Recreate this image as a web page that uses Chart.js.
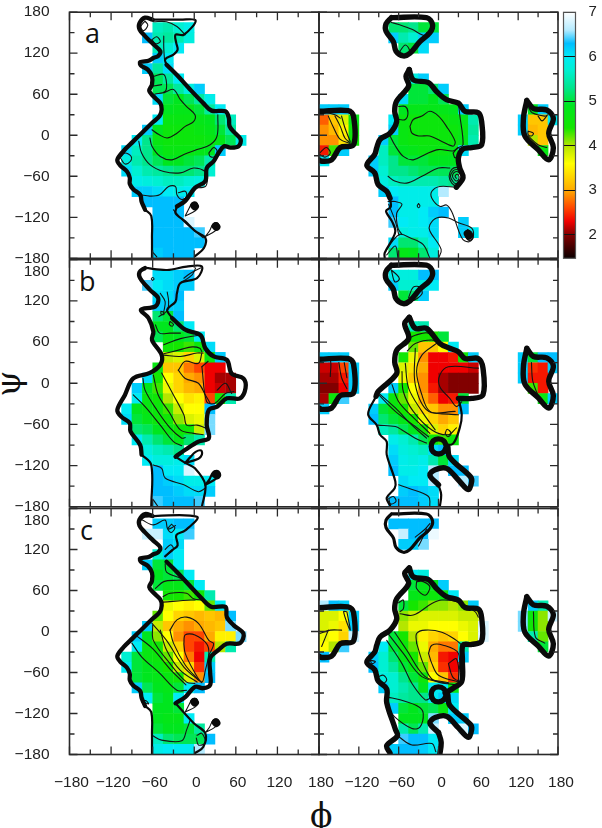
<!DOCTYPE html>
<html>
<head>
<meta charset="utf-8">
<style>
  html, body { margin: 0; padding: 0; background: #fff; }
  #page { position: relative; width: 602px; height: 828px; overflow: hidden; }
  canvas { position: absolute; left: 0; top: 0; }
  .lbl { position: absolute; color: #111; line-height: 1; }
  .panel-tag { font-family: 'Open Sans', sans-serif; font-size: 27px; }
  .axis-sym { font-family: 'DejaVu Serif', 'Liberation Serif', serif; font-size: 33px; }
</style>
<script src="https://cdn.jsdelivr.net/npm/chart.js@4"></script>
</head>
<body>
<div id="page">
  <div class="lbl panel-tag" style="left:85px;top:19px">a</div>
  <div class="lbl panel-tag" style="left:79px;top:267px">b</div>
  <div class="lbl panel-tag" style="left:80px;top:516px">c</div>
  <div class="lbl axis-sym" style="left:310px;top:799px">ϕ</div>
  <div class="lbl axis-sym" style="left:-4px;top:367px;transform:rotate(-90deg)">ψ</div>
</div>
<script>
// ── DATA ──
const phiTicks = [-180, -150, -120, -90, -60, -30, 0, 30, 60, 90, 120, 150, 180];
const psiTicks = [-180, -150, -120, -90, -60, -30, 0, 30, 60, 90, 120, 150, 180];
const psiLabelDrop = 162; // the "180" label of panels b and c sits lower than its tick
const barTicks = [2, 3, 4, 5, 6, 7];
const stopValues = [1.47, 2, 2.3, 2.6, 3, 3.6, 4.0, 4.4, 4.9, 5.3, 5.7, 6, 6.3, 6.6, 7];
const stopColors = ['#0a0000', '#820000', '#f00000', '#ff4600', '#ffaa00', '#ffff00', '#b4e600', '#14e600',
  '#00e61e', '#00e68c', '#00f0d2', '#00ebf5', '#00beff', '#b4ebff', '#ffffff'];

// heat cells: [psi low edge, phi low edge of first cell, values in 15 degree steps...]
const cellsA1 = [
  [150, -60, 5.6, 5.5, 5.7, 5.9],
  [135, -75, 6.3, 5.5, 5.4, 5.5, 5.8],
  [120, -60, 5.6, 5.7, 6.0],
  [105, -60, 6.2, 6.0],
  [90, -75, 6.2, 5.4, 6.1],
  [75, -60, 5.1, 5.4, 6.0],
  [60, -60, 5.1, 5.1, 5.4, 5.8, 6.2],
  [45, -60, 6.1, 5.0, 4.9, 5.1, 5.4, 5.9],
  [30, -45, 4.9, 4.8, 4.8, 5.0, 5.4, 6.0],
  [15, -60, 6.0, 4.7, 4.7, 4.7, 4.8, 4.9, 5.2, 5.6],
  [0, -75, 6.2, 4.9, 4.6, 4.6, 4.6, 4.7, 4.8, 5.0, 5.4],
  [-15, -90, 6.0, 5.3, 4.7, 4.6, 4.6, 4.6, 4.6, 4.7, 4.8, 5.1, 5.9],
  [-30, -105, 6.1, 5.6, 5.3, 4.9, 4.7, 4.7, 4.7, 4.8, 4.9, 6.2],
  [-45, -105, 5.8, 5.5, 5.3, 5.1, 4.9, 4.9, 5.0, 5.1, 5.5],
  [-60, -105, 6.1, 5.7, 5.5, 5.4, 5.3, 5.2, 5.2, 5.3, 5.7],
  [-75, -90, 5.9, 5.8, 5.7, 5.6, 5.6, 5.7, 5.8],
  [-90, -90, 6.2, 6.2, 6.1, 6.0, 5.9, 6.0],
  [-105, -75, 6.3, 6.3, 6.3, 6.3],
  [-120, -60, 6.3, 6.3, 6.3],
  [-135, -60, 6.3, 6.3, 6.3, 6.8],
  [-150, -60, 6.3, 6.3, 6.3, 6.3, 6.4],
  [-165, -60, 6.3, 6.3, 6.3, 6.3, 6.3],
  [-180, -60, 6.2, 6.3, 6.3, 6.3],
];
const cellsA2 = [
  [150, -75, 5.2, 5.2, 5.3, 5.0, 5.0],
  [135, -75, 6.2, 5.5, 5.7, 6.2, 6.2],
  [120, -60, 5.2, 5.0, 6.1],
  [75, -45, 5.8, 6.2],
  [60, -45, 5.0, 5.0, 5.2, 6.2],
  [45, -60, 6.1, 5.0, 5.0, 4.9, 5.1],
  [30, -60, 4.9, 4.8, 4.8, 4.8, 4.8, 4.9, 6.2],
  [15, -75, 6.0, 4.7, 4.6, 4.6, 4.6, 4.6, 4.7, 4.8, 5.5],
  [0, -75, 6.2, 4.7, 4.6, 4.6, 4.6, 4.6, 4.6, 4.7, 5.4],
  [-15, -90, 6.2, 5.0, 4.7, 4.6, 4.6, 4.6, 4.6, 4.6, 4.8, 5.5],
  [-30, -90, 5.6, 5.0, 4.9, 4.8, 4.7, 4.7, 4.7, 4.8, 6.1],
  [-45, -105, 6.2, 5.6, 5.3, 5.0, 5.0, 5.0, 4.9, 4.9, 4.9],
  [-60, -105, 6.2, 5.7, 5.3, 5.3, 5.2, 5.1, 5.1, 5.1, 5.1],
  [-75, -90, 5.8, 5.6, 5.5, 5.5, 5.5, 5.5, 5.4, 5.3],
  [-90, -90, 6.2, 6.0, 5.9, 5.9, 5.9, 5.9, 6.6],
  [-105, -75, 6.3, 5.9, 5.9, 5.9, 5.9],
  [-120, -75, 6.3, 5.9, 5.9, 6.0, 6.2, 6.3],
  [-135, -75, 6.4, 6.0, 5.9, 6.0, 6.1],
  [-135, 30, 6.2],
  [-150, -60, 5.8, 5.9, 5.9, 6.1],
  [-150, 30, 6.2, 6.0],
  [-165, -75, 6.1, 5.2, 5.2, 5.6, 6.0],
  [-180, -75, 5.2, 4.8, 4.9, 5.2, 5.8],
  // left edge island
  [30, -180, 6.2, 6.2, 6.2],
  [15, -180, 2.7, 3.2, 3.8, 4.8],
  [0, -180, 2.9, 3.1, 3.5, 4.6],
  [-15, -180, 2.9, 2.9, 3.4, 4.5],
  [-30, -180, 2.4, 4.3, 6.2],
  [-45, -180, 6.0],
  // right island
  [30, 135, 4.9, 6.2],
  [15, 120, 6.2, 3.2, 3.2, 6.0],
  [0, 120, 6.2, 3.1, 3.2],
  [-15, 135, 4.0, 3.2],
  [-30, 150, 4.7],
];
const cellsB1 = [
  [150, -60, 6.1, 6.1, 6.2, 6.3],
  [135, -75, 6.4, 6.0, 6.1, 6.2, 6.2],
  [120, -60, 6.1, 6.1, 6.3],
  [105, -60, 6.2, 6.2, 6.2],
  [90, -60, 5.2, 5.0, 6.3],
  [75, -60, 4.9, 4.9, 5.2, 6.0],
  [60, -60, 5.1, 4.8, 4.9, 5.0, 6.0],
  [45, -45, 4.5, 4.4, 4.3, 4.6, 6.1],
  [30, -45, 3.9, 3.8, 3.3, 3.8, 4.7, 6.2],
  [15, -60, 4.7, 3.2, 3.2, 2.8, 2.6, 2.3, 2.3],
  [0, -75, 6.1, 4.4, 3.6, 3.3, 3.0, 2.9, 2.3, 2.1, 2.1],
  [-15, -90, 6.2, 4.9, 4.3, 3.7, 3.3, 3.1, 3.0, 2.3, 2.2, 2.1],
  [-30, -90, 6.0, 4.7, 4.5, 4.0, 3.6, 3.4, 3.5, 2.6, 4.5, 5.5],
  [-45, -105, 6.0, 4.9, 4.7, 4.6, 4.3, 3.9, 3.6, 3.6, 6.3],
  [-60, -105, 6.1, 5.0, 4.8, 4.6, 4.5, 4.1, 3.8, 3.7, 6.5],
  [-75, -90, 5.2, 5.1, 4.9, 4.7, 4.5, 4.5, 3.9, 6.5],
  [-90, -90, 6.0, 5.5, 5.2, 5.0, 4.8, 5.2, 5.5],
  [-105, -75, 5.8, 5.6, 5.5, 5.3],
  [-120, -75, 6.0, 5.8, 5.8, 5.9, 6.1],
  [-135, -60, 6.3, 6.0, 6.0, 6.8],
  [-150, -60, 6.3, 6.2, 6.1, 5.9, 5.9, 6.0],
  [-165, -60, 6.3, 6.3, 6.2, 6.1, 6.1, 6.2],
  [-180, -60, 6.4, 6.3, 6.3, 6.3, 6.4],
];
const cellsB2 = [
  [150, -75, 5.9, 5.8, 5.8, 6.3, 6.3],
  [135, -75, 6.2, 5.7, 5.7, 5.8, 6.0],
  [120, -60, 5.0, 5.2, 6.2],
  [75, -45, 5.6, 5.5],
  [60, -45, 4.4, 4.4, 4.4, 5.0],
  [45, -45, 4.2, 3.2, 3.2, 3.6, 6.0],
  [30, -60, 4.5, 3.7, 2.9, 2.3, 2.3, 2.4, 4.5, 6.2],
  [15, -60, 3.8, 3.4, 3.0, 2.3, 2.3, 2.3, 2.3, 2.2],
  [0, -60, 3.7, 3.2, 2.9, 2.3, 2.1, 2.0, 2.0, 2.0],
  [-15, -75, 6.2, 4.4, 3.6, 2.9, 2.4, 2.1, 2.0, 2.0, 2.0],
  [-30, -90, 6.0, 4.6, 4.2, 3.7, 3.0, 2.7, 2.3, 2.4, 5.0],
  [-45, -105, 6.2, 5.0, 4.7, 4.4, 3.9, 3.3, 3.2, 2.9, 2.9, 6.3],
  [-60, -105, 6.3, 5.2, 5.0, 4.8, 4.4, 3.7, 3.3, 3.0, 3.2],
  [-75, -90, 5.6, 5.4, 5.1, 4.9, 4.5, 3.8, 3.3, 3.5],
  [-90, -75, 5.9, 5.7, 5.5, 5.1, 4.6, 4.3, 4.6],
  [-105, -75, 6.1, 5.8, 5.7, 5.6, 6.1, 6.3],
  [-120, -75, 6.2, 5.9, 5.8, 5.9, 5.5, 5.0, 6.1],
  [-135, -75, 6.3, 5.9, 5.9, 6.0, 6.6],
  [-135, 15, 6.3, 6.3],
  [-150, -60, 6.1, 6.0, 6.0, 6.6],
  [-150, 30, 6.6, 6.4],
  [-165, -60, 6.2, 6.3, 6.2, 6.1],
  [-180, -75, 6.3, 6.3, 6.3, 6.2, 6.1],
  [30, -180, 6.2, 6.2, 6.2],
  [15, -180, 2.2, 2.2, 2.6, 6.2],
  [0, -180, 2.1, 2.1, 2.4, 6.2],
  [-15, -180, 2.0, 2.0, 2.3, 6.2],
  [-30, -180, 2.1, 4.6, 6.4],
  [-45, -180, 6.2],
  [30, 120, 6.2, 5.0, 6.3, 6.3],
  [15, 120, 6.2, 2.5, 2.4, 6.2],
  [0, 120, 6.2, 2.4, 2.4],
  [-15, 135, 4.3, 2.4],
  [-30, 150, 4.7, 6.2],
];
const cellsC1 = [
  [150, -60, 6.2, 6.2, 6.3, 6.3],
  [135, -75, 6.7, 6.7, 6.1, 6.0, 6.4],
  [120, -45, 6.2, 6.1],
  [105, -60, 5.7, 6.2, 6.0],
  [90, -75, 6.2, 5.0, 5.0, 6.0],
  [75, -60, 4.9, 5.0, 5.1, 6.0],
  [60, -60, 5.0, 4.8, 4.8, 5.0, 6.0],
  [45, -45, 4.5, 4.4, 4.3, 4.5, 5.5],
  [30, -45, 3.7, 3.6, 3.5, 3.6, 4.2, 6.0],
  [15, -60, 4.2, 3.6, 3.3, 3.2, 3.1, 3.2, 3.1, 6.3],
  [0, -75, 6.2, 3.9, 3.2, 3.0, 2.9, 3.0, 3.1, 3.2, 6.5],
  [-15, -90, 6.2, 4.9, 4.1, 3.6, 2.9, 2.6, 2.6, 3.0, 3.5, 3.5, 6.5],
  [-30, -90, 6.0, 4.7, 4.5, 3.9, 3.3, 2.6, 2.4, 2.6, 4.0, 5.5],
  [-45, -105, 5.7, 5.0, 4.7, 4.6, 4.2, 3.6, 2.8, 2.3, 5.5],
  [-60, -105, 6.0, 5.0, 4.9, 4.7, 4.4, 3.9, 3.3, 2.5, 6.2],
  [-75, -90, 5.0, 4.9, 4.8, 4.7, 4.5, 3.8, 2.9, 6.3],
  [-90, -90, 6.2, 5.1, 4.9, 4.8, 5.0, 6.0, 6.3],
  [-105, -75, 6.0, 5.0, 4.9, 6.0],
  [-120, -60, 4.9, 4.9, 5.0],
  [-135, -60, 4.9, 4.8, 4.8, 6.0],
  [-150, -60, 5.0, 4.9, 4.9, 5.0, 5.4],
  [-165, -60, 5.6, 5.2, 5.1, 5.1, 5.1, 6.3],
  [-180, -60, 5.9, 6.0, 6.0, 6.0, 6.6],
];
const cellsC2 = [
  [150, -75, 6.3, 6.3, 6.3, 6.3, 6.3],
  [135, -60, 6.7, 6.3, 6.3, 6.9],
  [120, -60, 6.2, 6.2, 6.5],
  [75, -45, 6.0, 5.8],
  [60, -45, 5.0, 4.8, 4.9, 6.2],
  [45, -45, 4.8, 4.7, 4.6, 4.7, 6.0],
  [30, -60, 5.0, 4.4, 4.3, 4.1, 4.1, 4.0, 4.1, 6.2],
  [15, -60, 4.1, 3.9, 3.8, 3.8, 3.8, 3.8, 3.9, 3.9],
  [0, -60, 4.0, 3.7, 3.7, 3.6, 3.6, 3.6, 3.7, 3.8, 6.8],
  [-15, -75, 5.0, 4.4, 4.0, 3.5, 3.3, 3.2, 3.3, 3.6, 3.8, 6.8],
  [-30, -90, 6.0, 5.0, 4.6, 4.2, 3.7, 3.0, 2.8, 2.8, 5.5],
  [-45, -105, 6.2, 5.7, 5.2, 4.8, 4.4, 3.9, 3.1, 2.4, 2.3, 6.2],
  [-60, -105, 6.3, 5.7, 5.4, 5.0, 4.7, 4.2, 3.3, 2.5, 2.3],
  [-75, -90, 5.8, 5.7, 5.3, 5.0, 4.6, 3.6, 3.2, 2.5],
  [-90, -90, 6.2, 5.7, 5.5, 5.3, 4.9, 6.0, 6.0, 4.7],
  [-105, -75, 5.6, 5.4, 5.3, 5.3, 6.0, 6.2, 6.1],
  [-120, -75, 6.2, 5.0, 4.9, 5.0, 5.1, 4.7, 6.0],
  [-135, -60, 4.9, 4.9, 4.9, 6.5],
  [-135, 15, 6.2, 6.2],
  [-150, -60, 5.5, 5.1, 5.5, 6.7],
  [-150, 30, 6.8, 6.3],
  [-165, -60, 6.4, 6.3, 6.3, 6.0],
  [-180, -75, 6.2, 6.3, 6.3, 6.2, 6.0],
  [30, -180, 6.6, 6.3, 6.2],
  [15, -180, 3.8, 3.8, 3.6, 6.2],
  [0, -180, 3.8, 3.7, 3.4, 6.2],
  [-15, -180, 3.7, 3.6, 3.3, 6.7],
  [-30, -180, 3.6, 4.0, 6.4],
  [-45, -180, 6.3],
  [30, 135, 6.2, 5.5],
  [15, 120, 6.5, 4.6, 4.1, 6.7],
  [0, 120, 6.5, 4.5, 4.1],
  [-15, 135, 5.5, 4.2],
  [-30, 150, 5.0],
];

// contour lines, each one a list of [phi, psi]
const ridgeLeft = [[-60,169],[-71,172],[-79,164],[-79,155],[-71,145],[-59,133],[-49,123],[-52,116],[-59,113],[-66,109],[-78,107],[-77,102],[-67,96],[-61,86],[-61,74],[-65,65],[-59,57],[-49,47],[-47,38],[-50,28],[-61,18],[-76,3],[-88,-9],[-102,-23],[-111,-36],[-107,-44],[-97,-53],[-93,-62],[-93,-71],[-88,-79],[-78,-87],[-76,-97],[-71,-109]];
const ridgeLeftTail = [[-71,-109],[-62,-118],[-61,-150],[-61,-180]];
const tearUpper = [[-13,-118],[-8,-108],[-3,-99],[3,-98],[5,-104],[2,-110],[-13,-118]];
const tearLower = [[16,-148],[22,-140],[27,-130],[33,-128],[36,-133],[30,-140],[16,-148]];
const dotUpper = [[0,-103],[1,-104]];
const dotLower = [[31,-133],[32,-134]];
const topIsland = [[-71,172],[-18,172],[-9,162],[-13,150],[-28,137],[-43,120],[-53,116],[-64,123],[-68,137],[-79,152],[-79,163],[-71,172]];
const leftIsland = [[-180,35],[-136,36],[-128,28],[-128,-14],[-148,-18],[-161,-36],[-176,-38],[-180,-36]];
const rightIsland = [[133,51],[143,39],[163,37],[173,25],[166,3],[173,-18],[166,-36],[150,-21],[130,-1],[128,25],[133,51]];
const coreLeft = [[-44,96],[-49,86],[-45,72],[-63,50],[-66,35],[-63,20],[-73,3],[-88,-6],[-93,-18],[-96,-28],[-108,-44],[-96,-55],[-91,-72],[-78,-82],[-73,-92]];
const coreRight = [[-44,96],[-38,81],[-15,77],[-3,64],[12,52],[30,47],[40,35],[60,33],[65,20],[65,-14],[50,-18],[37,-20],[30,-33],[32,-48],[37,-62],[27,-76]];
const ring = [[12,-92],[8,-84],[0,-81],[-8,-84],[-11,-92],[-8,-100],[0,-103],[8,-100],[12,-92]];
const armB = [[14,-92],[17,-108],[48,-136],[50,-143],[45,-155],[30,-141],[12,-124],[-5,-126],[-13,-134],[0,-148]];
const armTail = [[0,-148],[4,-162],[2,-180]];

const thickA1 = [ridgeLeft,
  [[-40,103],[-25,88],[-6,67],[13,47],[25,36],[45,35],[50,25],[51,13],[59,3],[67,-6],[64,-16],[52,-18],[43,-16],[35,-26],[28,-38],[18,-48],[16,-67],[1,-77],[-13,-96],[-25,-104]]];
const mediumA1 = [ridgeLeftTail,
  [[-60,169],[-20,169],[2,168],[-15,147],[-27,147],[-26,135],[-24,125],[-30,118],[-42,111],[-40,103]],
  [[-25,-104],[-27,-114],[-13,-126],[1,-140],[16,-150],[14,-165],[1,-177]]];
const heavyA1 = [dotUpper, dotLower];
const thinA1 = [tearUpper, tearLower,
  [[-44,62],[-30,67],[-20,52],[-11,42],[1,30],[-1,20],[-13,13],[-25,3],[-39,-4],[-51,1],[-61,8]],
  [[-64,-4],[-61,-16],[-49,-31],[-32,-36],[-15,-28],[4,-21],[23,-14],[33,-1],[34,30]],
  [[-80,-9],[-76,-26],[-64,-43],[-44,-53],[-20,-55],[-1,-48],[16,-53],[19,-62],[16,-75],[0,-77]],
  [[-78,-87],[-64,-89],[-50,-87],[-37,-75],[-27,-75],[-25,-87],[-18,-94],[-11,-89],[-13,-82],[-23,-84]],
  [[-107,-33],[-100,-26],[-91,-31],[-92,-38],[-100,-42],[-106,-34]],
  [[21,-26],[28,-18],[33,-23],[30,-31],[23,-31],[21,-26]],
  [[-59,86],[-44,89],[-40,76],[-42,64],[-57,60]],
  [[-59,72],[-47,74]],
  [[-61,140],[-54,144],[-49,137],[-56,134],[-61,140]],
  [[-71,167],[-67,161],[-73,153],[-77,159],[-71,167]],
  [[-59,166],[-40,166],[-25,159],[-13,147]],
  [[-44,145],[-44,128],[-43,111]],
  [[-30,-109],[-13,-128],[13,-150]],
  [[-59,-172],[-54,-178]],
];

const thickA2 = [topIsland, leftIsland, rightIsland, coreLeft, coreRight];
const mediumA2 = [
  [[-73,-92],[-72,-105],[-79,-111],[-70,-126],[-65,-140],[-70,-153],[-81,-172],[-81,-180]],
];
const heavyA2 = [[[44,-144],[46,-147]]];
const thinA2 = [
  [[0,-180],[4,-167],[-13,-140],[-13,-131],[-3,-121],[15,-121],[30,-128],[50,-136],[52,-150],[45,-156],[35,-150],[20,-112],[12,-102],[2,-104],[-10,-92],[-10,-82],[2,-75],[25,-76]],
  [[-43,13],[-38,23],[-25,28],[-13,35],[0,28],[12,13],[25,-9],[22,-16],[5,-9],[-13,-1],[-30,-1],[-40,3],[-43,13]],
  [[-73,-1],[-66,-14],[-53,-31],[-38,-36],[-20,-28],[0,-21],[22,-23],[30,-18],[37,-14],[32,30],[30,47]],
  [[-76,-60],[-66,-67],[-48,-70],[-25,-60],[0,-48],[17,-48]],
  [[-60,42],[-50,42],[-46,33],[-50,23],[-60,23]],
  [[22,-26],[30,-18],[32,-28],[25,-33],[22,-26]],
  [[-71,165],[-60,162],[-40,155],[-25,147],[-15,145],[-18,150]],
  [[-58,123],[-50,132],[-43,123],[-45,118],[-55,116],[-58,123]],
  [[-81,-172],[-71,-157],[-58,-145],[-43,-150],[-23,-160],[-13,-180]],
  [[-78,-175],[-65,-162],[-61,-180]],
  [[-76,-97],[-65,-97],[-55,-101],[-63,-114],[-61,-136],[-55,-145]],
  [[-75,-101],[-65,-126],[-60,-145]],
  [[-30,-100],[-28,-103],[-30,-106],[-32,-103],[-30,-100]],
  [[38,-60],[33,-50],[27,-47],[20,-50],[16,-60],[20,-70],[27,-74],[34,-71],[36,-60],[32,-52],[27,-50],[22,-52],[18,-60],[22,-68],[27,-71],[32,-68],[34,-60],[30,-54],[27,-53],[23,-55],[21,-60],[24,-65],[27,-67],[30,-65],[31,-60],[28,-57],[25,-60],[27,-63]],
  [[44,-138],[50,-142],[52,-150],[46,-154],[40,-146],[44,-138]],
  [[-180,36],[-156,30],[-148,25]],
  [[-166,28],[-158,11],[-148,-6],[-133,-12]],
  [[-156,28],[-148,13],[-141,-4],[-133,-11]],
  [[-146,28],[-141,11],[-133,-9]],
  [[-179,-26],[-169,-18],[-163,-26],[-171,-32],[-179,-28]],
  [[136,40],[141,33],[160,28],[165,30]],
  [[150,28],[156,21],[163,28]],
  [[135,6],[143,3],[140,-1],[135,1],[135,6]],
  [[135,-1],[150,-14],[163,-18]],
];

const thickB1 = [
  [[-71,168],[-79,162],[-78,153],[-64,136],[-52,124],[-56,112],[-77,107],[-66,95],[-59,75],[-61,63],[-47,41],[-49,27],[-64,15],[-88,7],[-100,-17],[-111,-39],[-105,-49],[-93,-58],[-92,-70],[-78,-90],[-76,-104]],
  [[-32,95],[-13,78],[9,70],[16,51],[28,39],[47,34],[54,14],[71,7],[74,-7],[66,-22],[47,-22],[33,-34],[21,-39],[18,-61],[21,-80],[6,-85],[-13,-97],[-27,-107]],
];
const mediumB1 = [
  [[-76,-104],[-62,-119],[-62,-180]],
  [[-71,168],[-39,165],[-11,170],[11,170],[4,153],[-20,146],[-25,131],[-27,119],[-39,107],[-32,95]],
  [[-27,-107],[-13,-116],[1,-124],[16,-148],[11,-180]],
  [[-13,-116],[-6,-108],[2,-100],[10,-98],[11,-104],[6,-110],[-13,-116]],
  [[16,-148],[22,-140],[27,-130],[34,-128],[37,-133],[30,-140],[16,-148]],
];
const heavyB1 = [[[31,-133],[33,-134]]];
const thinB1 = [
  [[-88,-17],[-71,-34],[-49,-61],[-30,-85],[-18,-91]],
  [[-74,7],[-71,-10],[-54,-39],[-35,-65],[-18,-80],[-13,-79]],
  [[-59,12],[-52,-17],[-35,-44],[-20,-68],[-1,-73],[13,-75]],
  [[-47,15],[-30,-17],[-15,-46],[-11,-61],[4,-61],[16,-65]],
  [[-44,43],[-20,49],[-3,53],[8,51],[11,46]],
  [[-44,41],[-20,39],[4,44],[13,44]],
  [[-23,19],[-13,32],[6,29],[11,44]],
  [[-23,19],[-13,7],[6,0],[16,-17],[23,-29]],
  [[11,24],[18,-27],[30,-29],[45,-15],[57,-12]],
  [[33,-10],[45,0],[54,-15]],
  [[20,32],[11,24]],
  [[-44,56],[-20,65],[6,70]],
  [[-56,85],[-50,73],[-35,73],[-20,73]],
  [[-35,90],[-30,86],[-32,83],[-36,86],[-35,90]],
  [[-48,105],[-44,103],[-44,100],[-48,101],[-48,105]],
  [[-49,131],[-42,119],[-44,104]],
  [[-39,133],[-37,119],[-39,106],[-51,97]],
  [[-59,-119],[-47,-124],[-42,-138],[-15,-148],[6,-158],[16,-153]],
  [[-15,153],[-6,160],[9,168]],
  [[-20,146],[-3,158],[2,168]],
  [[-60,150],[-58,152],[-60,154],[-62,152],[-60,150]],
  [[-59,-170],[-52,-180]],
];

const thickB2 = [topIsland, leftIsland, rightIsland, ring, armB,
  [[-44,96],[-51,87],[-45,65],[-63,48],[-66,31],[-63,14],[-91,-12],[-94,-19]],
  [[-44,96],[-35,80],[-18,80],[2,58],[17,51],[30,46],[40,36],[60,36],[67,22],[67,-17],[50,-22],[30,-22]],
];
const mediumB2 = [armTail,
  [[-94,-19],[-106,-45],[-93,-61],[-88,-75],[-78,-85],[-78,-104],[-65,-143],[-66,-153],[-78,-167],[-73,-178]],
  [[30,-22],[35,-46],[32,-65],[22,-88],[10,-90]],
];
const heavyB2 = [];
const thinB2 = [
  [[-93,-12],[-65,-36],[-40,-61],[-18,-80]],
  [[-90,-17],[-65,-41],[-35,-63],[-15,-78]],
  [[-70,-2],[-60,-27],[-40,-48],[-13,-73]],
  [[-55,17],[-53,-12],[-38,-41],[-10,-68],[15,-75],[27,-65]],
  [[-50,29],[-45,-7],[-25,-41],[-5,-68]],
  [[-35,51],[-35,-2],[-15,-41],[25,-41]],
  [[-3,58],[-25,41],[-33,17],[-25,-17],[-13,-41],[15,-45],[30,-46]],
  [[60,22],[15,24],[2,12],[2,-5],[17,-22],[27,-34],[35,-27]],
  [[-91,-61],[-65,-63],[-55,-68],[-35,-80],[-18,-87]],
  [[-60,-148],[-45,-153],[-15,-165],[-13,-180]],
  [[-75,-168],[-68,-165],[-64,-172],[-72,-176],[-75,-168]],
  [[10,-73],[13,-67],[19,-73],[14,-78],[10,-73]],
  [[-45,65],[-35,70],[-15,73],[0,58]],
  [[-47,47],[-35,58],[-10,63],[2,58]],
  [[-71,165],[-60,155],[-60,150],[-66,148],[-71,165]],
  [[-45,125],[-38,140],[-28,140],[-25,130],[-40,120],[-45,125]],
  [[-172,34],[-163,34],[-163,10]],
  [[-150,30],[-146,8],[-138,-8]],
  [[-142,30],[-138,8]],
  [[140,30],[142,3],[150,-18]],
];

const thickC1 = [ridgeLeft,
  [[-40,102],[-25,87],[13,46],[25,36],[45,36],[47,21],[57,9],[71,-3],[66,-17],[47,-18],[35,-27],[23,-39],[23,-61],[23,-78],[13,-83],[1,-81],[-13,-96],[-27,-105]]];
const mediumC1 = [ridgeLeftTail,
  [[-78,163],[-71,168],[4,168],[-13,148],[-26,141],[-24,126],[-32,119],[-42,110]],
  [[-27,-105],[-1,-134],[16,-149],[13,-169],[1,-178]],
];
const heavyC1 = [dotUpper, dotLower];
const thinC1 = [tearUpper, tearLower,
  [[-90,-17],[-76,-37],[-50,-61],[-25,-86],[-11,-86]],
  [[-85,-5],[-60,-25],[-35,-55],[-12,-78]],
  [[-60,9],[-59,-13],[-35,-47],[-11,-74],[1,-76]],
  [[-49,2],[-40,-27],[-20,-57],[4,-74]],
  [[-61,12],[-40,-13],[-15,-52],[11,-75]],
  [[-35,2],[-25,17],[-11,21],[6,12],[21,-13],[28,-18],[21,-35]],
  [[-35,2],[-30,-17],[-13,-49],[6,-71]],
  [[-15,-18],[-13,-5],[1,-5],[18,-18],[21,-32],[16,-57],[11,-74],[-1,-57],[-13,-32],[-15,-18]],
  [[-45,51],[-35,56],[-11,56],[-1,48],[13,46]],
  [[-45,43],[-5,46],[1,46]],
  [[-56,63],[-44,73],[-25,75],[-11,75]],
  [[-42,99],[-40,87],[-20,78]],
  [[-61,-152],[-47,-159],[-18,-160],[-11,-144],[-6,-130]],
  [[4,-152],[11,-149],[16,-163],[6,-166],[3,-156]],
  [[-75,163],[-59,156],[-42,163],[-38,150],[-27,155]],
  [[-33,157],[-28,152],[-33,145],[-38,150],[-33,157]],
  [[-76,-103],[-66,-106],[-70,-101],[-76,-103]],
  [[-42,120],[-34,127],[-30,120],[-40,112]],
];

const thickC2 = [leftIsland, rightIsland, ring, armB, armTail,
  [[-44,93],[-51,85],[-45,70],[-63,48],[-66,33],[-63,18],[-73,2],[-88,-8],[-93,-20],[-96,-30],[-108,-45],[-96,-56],[-91,-72],[-78,-84],[-78,-104],[-65,-143],[-62,-153],[-78,-167],[-73,-178]],
  [[-44,93],[-38,80],[-15,76],[-3,63],[12,51],[30,46],[40,35],[60,33],[65,20],[65,-14],[50,-19],[37,-20],[36,-42],[35,-73],[22,-83],[10,-90]],
];
const mediumC2 = [topIsland];
const heavyC2 = [];
const thinC2 = [
  [[-58,26],[-38,24],[-10,41],[5,46],[30,43],[55,29],[60,21]],
  [[-60,42],[-53,46],[-53,33],[-58,29]],
  [[-33,-17],[-33,-3],[-20,2],[5,-1],[27,-13],[35,-20]],
  [[-33,-17],[-23,-47],[-8,-71],[25,-78]],
  [[-15,-32],[-10,-20],[7,-20],[30,-32],[30,-73]],
  [[-15,-32],[-10,-47],[0,-64],[30,-74]],
  [[15,-47],[27,-40],[30,-71],[21,-66],[15,-47]],
  [[-76,-3],[-53,-32],[-25,-66],[15,-76]],
  [[-66,-1],[-48,-27],[-20,-66],[15,-75]],
  [[-78,-13],[-55,-47],[-40,-76],[-20,-100],[-13,-98]],
  [[-76,-96],[-58,-100],[-30,-110],[-23,-120],[-28,-140],[-40,-142],[-66,-125],[-76,-110],[-76,-96]],
  [[-91,-66],[-83,-64],[-78,-71],[-85,-77],[-90,-71],[-91,-66]],
  [[-103,-42],[-95,-44],[-100,-47],[-103,-42]],
  [[-33,73],[-23,73],[-13,65],[-20,53],[-33,63],[-33,73]],
  [[-60,-154],[-40,-166],[-10,-164],[-4,-176]],
  [[-179,-3],[-163,2],[-146,2]],
  [[-176,-22],[-166,2]],
  [[-138,29],[-133,2],[-143,29],[-138,29]],
  [[143,29],[146,-8],[160,-17]],
  [[-35,138],[-20,150],[-13,158]],
  [[-30,125],[-25,135],[-18,150]],
];

const panels = [
  { box: [69.5, 12.2, 319, 258.3], cells: cellsA1, thick: thickA1, medium: mediumA1, heavy: heavyA1, thin: thinA1, wide: 4.3, mid: 2.2, yAxis: true, xAxis: false, drop: false },
  { box: [319, 12.2, 558, 258.3], cells: cellsA2, thick: thickA2, medium: mediumA2, heavy: heavyA2, thin: thinA2, wide: 5.4, mid: 2.2, yAxis: false, xAxis: false, drop: false },
  { box: [69.5, 259.7, 319, 506.8], cells: cellsB1, thick: thickB1, medium: mediumB1, heavy: heavyB1, thin: thinB1, wide: 4.3, mid: 2.2, yAxis: true, xAxis: false, drop: true },
  { box: [319, 259.7, 558, 506.8], cells: cellsB2, thick: thickB2, medium: mediumB2, heavy: heavyB2, thin: thinB2, wide: 5.4, mid: 2.2, yAxis: false, xAxis: false, drop: true },
  { box: [69.5, 508.5, 319, 754.5], cells: cellsC1, thick: thickC1, medium: mediumC1, heavy: heavyC1, thin: thinC1, wide: 4.3, mid: 2.2, yAxis: true, xAxis: true, drop: true },
  { box: [319, 508.5, 558, 754.5], cells: cellsC2, thick: thickC2, medium: mediumC2, heavy: heavyC2, thin: thinC2, wide: 5.4, mid: 3.2, yAxis: false, xAxis: true, drop: true },
];

// ── HELPERS ──
const PAGE_W = 602, PAGE_H = 828;
const labelFont = { family: "'Liberation Sans', sans-serif", size: 15.5 };
const Y_GUTTER = 60, X_GUTTER = 45, BAR_GUTTER = 26;

function hexToRgb(h) {
  return [1, 3, 5].map(i => parseInt(h.substr(i, 2), 16));
}
function energyColor(v) {
  for (let i = 1; i < stopValues.length; i++) {
    if (v <= stopValues[i]) {
      const t = (v - stopValues[i - 1]) / (stopValues[i] - stopValues[i - 1]);
      const a = hexToRgb(stopColors[i - 1]), b = hexToRgb(stopColors[i]);
      return `rgb(${a.map((c, k) => Math.round(c + (b[k] - c) * t)).join(',')})`;
    }
  }
  return '#fff';
}
function axisText(v) {
  if (v % 60 !== 0) return '';
  return v < 0 ? '\u2212' + (-v) : String(v);
}
function newCanvas() {
  const c = document.createElement('canvas');
  c.width = PAGE_W; c.height = PAGE_H;
  c.style.width = PAGE_W + 'px'; c.style.height = PAGE_H + 'px';
  document.getElementById('page').appendChild(c);
  return c;
}
function lineSet(line, width, order, color) {
  return {
    data: line.map(p => ({ x: p[0], y: p[1] })),
    showLine: true, pointRadius: 0, tension: 0.35,
    borderColor: color || '#0a0a0a', borderWidth: width,
    borderCapStyle: 'round', borderJoinStyle: 'round', order,
  };
}

// inward ticks on all four sides plus the box
const panelFrame = {
  id: 'panelFrame',
  afterDatasetsDraw(chart) {
    const { ctx, chartArea: a, scales: { x, y } } = chart;
    ctx.save();
    ctx.strokeStyle = '#2a2a2a';
    ctx.lineWidth = 1.3;
    ctx.beginPath();
    phiTicks.forEach(v => {
      const px = x.getPixelForValue(v), len = v % 60 === 0 ? 8 : 5;
      ctx.moveTo(px, a.top); ctx.lineTo(px, a.top + len);
      ctx.moveTo(px, a.bottom); ctx.lineTo(px, a.bottom - len);
    });
    psiTicks.forEach(v => {
      const py = y.getPixelForValue(v), len = v % 60 === 0 ? 8 : 5;
      ctx.moveTo(a.left, py); ctx.lineTo(a.left + len, py);
      ctx.moveTo(a.right, py); ctx.lineTo(a.right - len, py);
    });
    ctx.stroke();
    ctx.lineWidth = 1.6;
    ctx.strokeRect(a.left, a.top, a.right - a.left, a.bottom - a.top);
    ctx.restore();
  }
};

function cellPoints(rows) {
  const pts = [];
  rows.forEach(r => {
    r.slice(2).forEach((v, i) => pts.push({ x: r[1] + 15 * i + 7.5, y: r[0] + 7.5, v }));
  });
  return pts;
}

// ── CHARTS ──
panels.forEach((p, idx) => {
  const [l, t, r, b] = p.box;
  const psiList = p.drop ? psiTicks.concat([psiLabelDrop]) : psiTicks;
  const gutY = p.yAxis ? Y_GUTTER : 0;
  const gutX = p.xAxis ? X_GUTTER : 0;
  new Chart(newCanvas(), {
    type: 'scatter',
    data: {
      datasets: [
        {
          data: cellPoints(p.cells),
          pointStyle: 'rect', borderWidth: 0, pointBorderWidth: 0, order: 5,
          pointBackgroundColor: c => energyColor(c.raw.v),
          pointRadius: c => {
            const s = c.chart.scales;
            const w = Math.abs(s.x.getPixelForValue(15) - s.x.getPixelForValue(0));
            const h = Math.abs(s.y.getPixelForValue(15) - s.y.getPixelForValue(0));
            return (Math.max(w, h) + 0.4) / 2 * Math.SQRT2;
          },
        },
        ...p.thin.map(l => lineSet(l, 1.1, 3, '#141414')),
        ...p.medium.map(l => lineSet(l, p.mid, 2)),
        ...p.thick.map(l => lineSet(l, p.wide, 1)),
        ...p.heavy.map(l => lineSet(l, 8, 0)),
      ]
    },
    options: {
      responsive: false, animation: false, events: [],
      layout: { autoPadding: false, padding: { left: l - gutY, top: t, right: PAGE_W - r, bottom: PAGE_H - b - gutX } },
      plugins: { legend: { display: false }, tooltip: { enabled: false } },
      scales: {
        x: {
          type: 'linear', min: -180, max: 180,
          grid: { display: false }, border: { display: false },
          afterBuildTicks: s => { s.ticks = phiTicks.map(value => ({ value })); },
          afterFit: s => { s.height = gutX; s.paddingLeft = 0; s.paddingRight = 0; },
          ticks: {
            display: p.xAxis, autoSkip: false, maxRotation: 0, padding: 11, color: '#222', font: labelFont,
            labelOffset: idx % 2 ? 3 : 2,
            callback: v => (idx % 2 && v === -180) ? '' : axisText(v),
          },
        },
        y: {
          type: 'linear', min: -180, max: 180,
          grid: { display: false }, border: { display: false },
          afterBuildTicks: s => { s.ticks = psiList.map(value => ({ value })); },
          afterFit: s => { s.width = gutY; s.paddingTop = 0; s.paddingBottom = 0; },
          ticks: {
            display: p.yAxis, autoSkip: false, padding: 12, color: '#222', font: labelFont,
            callback: v => {
              if (v === psiLabelDrop) return '180';
              if (v === 180 && p.drop) return '';
              return axisText(v);
            },
          },
        },
      },
    },
    plugins: [panelFrame],
  });
});

// colour bar
new Chart(newCanvas(), {
  type: 'bar',
  data: {
    labels: [''],
    datasets: [{
      data: [[stopValues[0], 7]],
      barPercentage: 1, categoryPercentage: 1, borderWidth: 0,
      backgroundColor: c => {
        const y = c.chart.scales.y;
        if (!c.chart.chartArea) return '#fff';
        const g = c.chart.ctx.createLinearGradient(0, y.getPixelForValue(stopValues[0]), 0, y.getPixelForValue(7));
        stopValues.forEach((v, i) => g.addColorStop((v - stopValues[0]) / (7 - stopValues[0]), stopColors[i]));
        return g;
      },
    }]
  },
  options: {
    responsive: false, animation: false, events: [],
    layout: { autoPadding: false, padding: { left: 563.5, top: 12.3, right: PAGE_W - 575.5 - BAR_GUTTER, bottom: PAGE_H - 258.3 } },
    plugins: { legend: { display: false }, tooltip: { enabled: false } },
    scales: {
      x: { display: false },
      y: {
        position: 'right', min: stopValues[0], max: 7,
        border: { display: false },
        grid: { z: 1, color: '#111', lineWidth: 1, drawTicks: false },
        afterBuildTicks: s => { s.ticks = barTicks.map(value => ({ value })); },
        afterFit: s => { s.width = BAR_GUTTER; s.paddingTop = 0; s.paddingBottom = 0; },
        ticks: { autoSkip: false, padding: 13, color: '#222', font: { family: "'Liberation Sans', sans-serif", size: 15 } },
      },
    },
  },
  plugins: [{
    id: 'barBox',
    afterDraw(chart) {
      const { ctx, chartArea: a } = chart;
      ctx.save();
      ctx.strokeStyle = '#555';
      ctx.lineWidth = 1.2;
      ctx.strokeRect(a.left, a.top, a.right - a.left, a.bottom - a.top);
      ctx.restore();
    }
  }],
});
</script>
</body>
</html>
